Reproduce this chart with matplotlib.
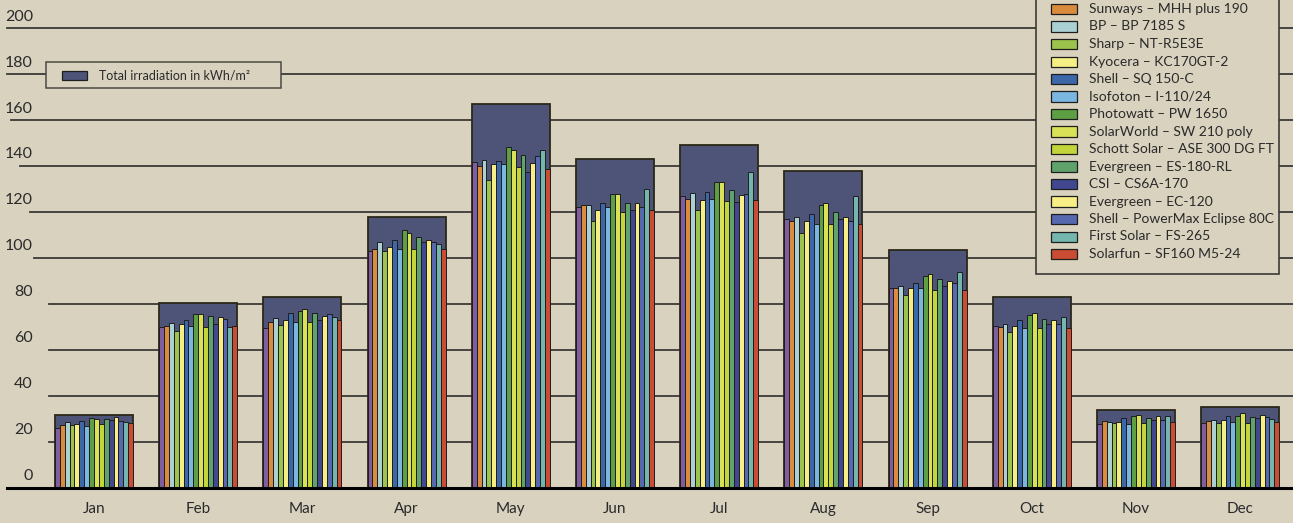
import matplotlib
matplotlib.use("Agg")
import matplotlib.pyplot as plt
from matplotlib.patches import Rectangle
import numpy as np

# ---------------- data ----------------
months = ["Jan", "Feb", "Mar", "Apr", "May", "Jun", "Jul", "Aug", "Sep", "Oct", "Nov", "Dec"]
irradiation = [31.7, 80.3, 83.0, 118.0, 166.8, 143.0, 149.3, 138.0, 103.5, 83.2, 33.9, 35.4]

modules = ["", "Sunways – MHH plus 190", "BP – BP 7185 S", "Sharp – NT-R5E3E",
           "Kyocera – KC170GT-2", "Shell – SQ 150-C", "Isofoton – I-110/24",
           "Photowatt – PW 1650", "SolarWorld – SW 210 poly", "Schott Solar – ASE 300 DG FT",
           "Evergreen – ES-180-RL", "CSI – CS6A-170", "Evergreen – EC-120",
           "Shell – PowerMax Eclipse 80C", "First Solar – FS-265", "Solarfun – SF160 M5-24"]

jan = [25.9, 27.3, 28.7, 27.3, 27.7, 29.1, 27.0, 30.6, 30.0, 28.0, 30.1, 29.4, 30.7, 29.0, 28.8, 28.1]
feb = [69.9, 70.4, 71.6, 68.3, 71.2, 72.9, 70.6, 75.5, 75.5, 70.1, 74.6, 71.3, 74.2, 73.3, 69.9, 70.3]
mar = [69.5, 72.0, 74.0, 71.0, 73.0, 76.0, 72.0, 77.0, 78.0, 72.0, 76.0, 73.0, 75.0, 75.5, 74.5, 73.0]
apr = [103, 104, 107, 103, 105, 108, 104, 112, 111, 104, 109, 107, 108, 107, 106, 104]
may = [141.9, 139.8, 142.5, 134.1, 140.7, 142.2, 140.7, 148.1, 147.1, 139.6, 144.8, 137.5, 141.4, 144.2, 147.1, 138.8]
jun = [122, 123, 123, 116, 121, 124, 122, 128, 128, 120, 124, 121, 124, 122, 130, 121]
jul = [126.8, 125.5, 128.1, 120.7, 125.4, 128.7, 125.5, 133.2, 132.9, 124.6, 129.7, 124.3, 127.4, 127.7, 137.5, 125.1]
aug = [117, 116, 118, 111, 116, 119, 115, 123, 124, 115, 120, 117, 118, 116, 127, 115]
sep = [87, 87, 88, 84, 87, 89, 87, 92, 93, 86, 91, 88, 90, 89, 94, 86]
oct_ = [70.3, 69.9, 71.2, 68.0, 70.3, 72.9, 69.7, 75.3, 75.9, 69.7, 73.3, 71.2, 72.9, 71.5, 74.5, 69.6]
nov = [28.0, 29.0, 28.8, 28.1, 28.6, 30.6, 28.0, 31.2, 31.6, 28.1, 30.3, 29.7, 31.2, 29.4, 31.4, 28.6]
dec = [28.4, 29.3, 29.4, 28.3, 29.4, 31.2, 28.8, 31.2, 32.5, 28.3, 31.0, 30.4, 31.9, 30.7, 30.0, 28.7]
monthly_yields = [jan, feb, mar, apr, may, jun, jul, aug, sep, oct_, nov, dec]

y_ticks = [0, 20, 40, 60, 80, 100, 120, 140, 160, 180, 200]

# ---------------- style ----------------
colors = ["#7f5d9e", "#d98b3e", "#abd0d3", "#9cc34b", "#f5ee85", "#3c67a8",
          "#7ab6e0", "#5d9f42", "#d9e256", "#c2d63c", "#60a26c", "#41488f",
          "#f7ef86", "#5568b0", "#74b6ae", "#c94c33"]
bg = "#d9d2bf"
irr_color = "#4d5478"
txt = "#2a2a2a"

plt.rcParams["font.family"] = ["Lato", "DejaVu Sans"]

W, H = 1293, 523
fig = plt.figure(figsize=(W / 100, H / 100), dpi=100, facecolor=bg)
ax = fig.add_axes([0, 0, 1, 1])
ax.set_facecolor(bg)
for s in ax.spines.values():
    s.set_visible(False)
ax.set_xticks([])
ax.set_yticks([])

x0_px, step_px = 94.0, 104.2
y0_px, px_per_unit = 488.0, 2.3
ax.set_xlim((0 - x0_px) / step_px, (W - x0_px) / step_px)
ax.set_ylim((y0_px - H) / px_per_unit, y0_px / px_per_unit)

def fx(px):
    return px / W

def fy(py):
    return 1 - py / H

# gridlines (start positions vary slightly as in reference)
grid_start = {20: 49, 40: 49, 60: 49, 80: 49, 100: 34, 120: 30, 140: 20, 160: 11, 180: 7, 200: 7}
for v in y_ticks[1:]:
    ax.axhline(v, xmin=fx(grid_start[v]), xmax=1, color="#3a3a36", lw=1.3, zorder=1)
ax.axhline(0, xmin=fx(7), xmax=1, color="black", lw=2.2, zorder=6)

# tick labels
for v in y_ticks:
    ax.text(fx(33), v + 5.0, str(v), transform=ax.get_yaxis_transform(), ha="right",
            va="center", fontsize=11.5, color=txt, zorder=7)

x = np.arange(len(months))
group_w = 0.749
n = len(modules)
bw = group_w / n

ax.bar(x, irradiation, width=group_w, color=irr_color, edgecolor="#2b2818", lw=1.3, zorder=2)
for m, vals in enumerate(monthly_yields):
    offs = (np.arange(n) - (n - 1) / 2) * bw
    ax.bar(x[m] + offs, vals, width=bw, color=colors, edgecolor="#1e1e1e", lw=0.7, zorder=3)

for i, mname in enumerate(months):
    ax.text(i, (y0_px - 509) / px_per_unit, mname, ha="center", va="center",
            fontsize=11, color=txt, zorder=7)

# irradiation legend box
ax.add_patch(Rectangle((fx(46), fy(88)), fx(281) - fx(46), fy(62) - fy(88), transform=ax.transAxes,
                       facecolor=bg, edgecolor="#4a4a44", lw=1.1, zorder=8))
ax.add_patch(Rectangle((fx(62), fy(80)), fx(87) - fx(62), fy(71) - fy(80), transform=ax.transAxes,
                       facecolor=irr_color, edgecolor="#1e1e1e", lw=0.9, zorder=9))
ax.text(fx(99), fy(76), "Total irradiation in kWh/m²", transform=ax.transAxes, ha="left",
        va="center", fontsize=9, color=txt, zorder=9)

# module legend box (top part cropped by the figure edge)
ax.add_patch(Rectangle((fx(1036), fy(274)), fx(1279) - fx(1036), fy(-40) - fy(274),
                       transform=ax.transAxes, facecolor=bg, edgecolor="#3a3a36", lw=1.2,
                       zorder=8, clip_on=True))
for i, (lab, c) in enumerate(zip(modules, colors)):
    cy = 9 + 17.5 * (i - 1)
    ax.add_patch(Rectangle((fx(1051), fy(cy + 5)), fx(1077) - fx(1051), fy(cy - 5) - fy(cy + 5),
                           transform=ax.transAxes, facecolor=c, edgecolor="#1e1e1e", lw=0.9,
                           zorder=9, clip_on=True))
    if lab:
        ax.text(fx(1089), fy(cy), lab, transform=ax.transAxes, ha="left", va="center",
                fontsize=10, color=txt, zorder=9)

fig.savefig("out.png", dpi=100, facecolor=bg)
